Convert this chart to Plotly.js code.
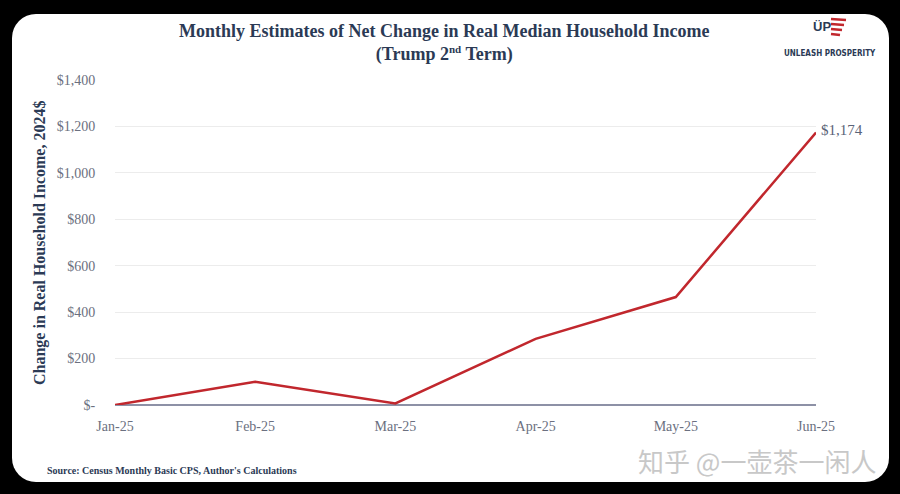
<!DOCTYPE html>
<html>
<head>
<meta charset="utf-8">
<script src="https://cdn.plot.ly/plotly-3.0.1.min.js"></script>
<style>
  html, body { margin: 0; padding: 0; background: #000; width: 900px; height: 494px; overflow: hidden; }
  #panel { position: absolute; left: 12px; top: 14px; width: 877px; height: 468px; background: #fff; border-radius: 24px; }
  #chart { position: absolute; left: 0; top: 0; width: 900px; height: 494px; }
</style>
</head>
<body>
<div id="panel"></div>
<div id="chart"></div>
<script>
const months = ["Jan-25", "Feb-25", "Mar-25", "Apr-25", "May-25", "Jun-25"];
const netChange = [0, 100, 7, 285, 465, 1174];
const yTickVals = [0, 200, 400, 600, 800, 1000, 1200, 1400];
const yTickText = ["$-", "$200", "$400", "$600", "$800", "$1,000", "$1,200", "$1,400"];
const lastLabel = "$1,174";

const serif = "Liberation Serif, DejaVu Serif, serif";
const navy = "#2b3a55";

// helpers converting pixel positions of decorations into paper coordinates
const L = 115, R = 816, T = 80, B = 405;
const px = (x) => (x - L) / (R - L);
const py = (y) => (B - y) / (B - T);

const trace = {
  x: months,
  y: netChange,
  type: "scatter",
  mode: "lines",
  line: { color: "#c1272d", width: 2.5 },
  hoverinfo: "skip"
};

const layout = {
  width: 900, height: 494,
  paper_bgcolor: "rgba(0,0,0,0)",
  plot_bgcolor: "rgba(0,0,0,0)",
  margin: { l: L, r: 900 - R, t: T, b: 494 - B },
  showlegend: false,
  xaxis: {
    type: "category",
    range: [0, 5],
    showgrid: false,
    zeroline: false,
    showline: false,
    ticks: "outside", ticklen: 8, tickcolor: "rgba(0,0,0,0)",
    tickfont: { family: serif, size: 14, color: "#6b7080" },
    fixedrange: true
  },
  yaxis: {
    range: [0, 1400],
    tickvals: yTickVals,
    ticktext: yTickText,
    showgrid: true,
    gridcolor: "#ececec",
    gridwidth: 1,
    zeroline: true,
    zerolinecolor: "#8d91a6",
    zerolinewidth: 2,
    showline: false,
    ticks: "outside", ticklen: 16, tickcolor: "rgba(0,0,0,0)",
    tickfont: { family: serif, size: 14, color: "#6b7080" },
    fixedrange: true
  },
  annotations: [
    {
      xref: "paper", yref: "paper", x: px(444), y: py(43),
      xanchor: "center", yanchor: "middle", showarrow: false,
      text: "<b>Monthly Estimates of Net Change in Real Median Household Income<br>(Trump 2<sup><span style=\"font-size:11px\">nd</span></sup> Term)</b>",
      font: { family: serif, size: 18, color: navy }
    },
    {
      xref: "paper", yref: "paper", x: px(40), y: py(243),
      xanchor: "center", yanchor: "middle", showarrow: false, textangle: -90,
      text: "<b>Change in Real Household Income, 2024$</b>",
      font: { family: serif, size: 16, color: navy }
    },
    {
      x: months[5], y: netChange[5], xref: "x", yref: "y",
      text: lastLabel, showarrow: false,
      xanchor: "left", yanchor: "middle", xshift: 3, yshift: 2,
      font: { family: serif, size: 15, color: "#5a6378" }
    },
    {
      xref: "paper", yref: "paper", x: px(45), y: py(470),
      xanchor: "left", yanchor: "middle", showarrow: false,
      text: "<b>Source: Census Monthly Basic CPS, Author's Calculations</b>",
      font: { family: serif, size: 10, color: navy }
    },
    {
      xref: "paper", yref: "paper", x: px(878), y: py(460),
      xanchor: "right", yanchor: "middle", showarrow: false,
      text: "知乎 @一壶茶一闲人",
      font: { family: "Noto Sans CJK SC, sans-serif", size: 26, color: "#c8c8c8" }
    },
    {
      xref: "paper", yref: "paper", x: px(830), y: py(53),
      xanchor: "center", yanchor: "middle", showarrow: false,
      text: "<b>UNLEASH PROSPERITY</b>",
      font: { family: "Liberation Sans Narrow, DejaVu Sans Condensed, sans-serif", size: 8, color: navy }
    },
    {
      xref: "paper", yref: "paper", x: px(822), y: py(27),
      xanchor: "center", yanchor: "middle", showarrow: false,
      text: "<b>ÜP</b>",
      font: { family: "Liberation Sans Narrow, sans-serif", size: 13, color: navy }
    }
  ]
};

const stripeY = [19, 24, 29, 34];
layout.shapes = stripeY.map((yy, i) => ({
  type: "line", xref: "paper", yref: "paper", layer: "above",
  x0: px(831), x1: px(846 - i * 2),
  y0: py(yy), y1: py(yy + 1),
  line: { color: "#c1272d", width: 2.5 }
}));

Plotly.newPlot("chart", [trace], layout, { displayModeBar: false, staticPlot: true });
</script>
</body>
</html>
